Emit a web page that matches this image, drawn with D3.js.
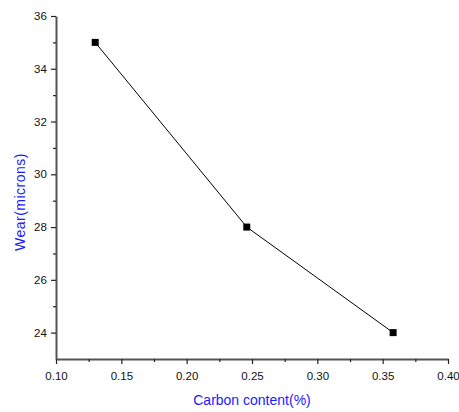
<!DOCTYPE html>
<html>
<head>
<meta charset="utf-8">
<script src="https://cdn.jsdelivr.net/npm/d3@7"></script>
<style>
  body { margin: 0; background: #fff; }
  svg { font-family: "Liberation Sans", Arial, sans-serif; }
</style>
</head>
<body>
<div id="chart"></div>
<script>
// Data
const carbon = [0.13, 0.246, 0.358];
const wear = [35, 28, 24];
const xTicks = [0.10, 0.15, 0.20, 0.25, 0.30, 0.35, 0.40];
const yTicks = [24, 26, 28, 30, 32, 34, 36];

const width = 459, height = 412;
const plot = { left: 56, right: 448, top: 16, bottom: 359 };

const svg = d3.select('#chart').append('svg')
    .attr('width', width)
    .attr('height', height);

const x = d3.scaleLinear().domain([0.10, 0.40]).range([plot.left, plot.right]);
const y = d3.scaleLinear().domain([23, 36]).range([plot.bottom, plot.top]);

const axisColor = '#555';

// minor ticks
const xMinor = d3.range(0.125, 0.40, 0.05);
const yMinor = d3.range(25, 36, 2);

const gx = svg.append('g')
    .attr('transform', `translate(0,${plot.bottom})`)
    .call(d3.axisBottom(x).tickValues(xTicks).tickFormat(d3.format('.2f')).tickSize(5).tickSizeOuter(0));
svg.append('g')
    .attr('transform', `translate(0,${plot.bottom})`)
    .call(d3.axisBottom(x).tickValues(xMinor).tickFormat('').tickSize(3).tickSizeOuter(0))
    .select('.domain').remove();

const gy = svg.append('g')
    .attr('transform', `translate(${plot.left},0)`)
    .call(d3.axisLeft(y).tickValues(yTicks).tickSize(5).tickSizeOuter(0));
svg.append('g')
    .attr('transform', `translate(${plot.left},0)`)
    .call(d3.axisLeft(y).tickValues(yMinor).tickFormat('').tickSize(3).tickSizeOuter(0))
    .select('.domain').remove();

svg.selectAll('.domain').attr('stroke', axisColor).attr('stroke-width', 2);
svg.selectAll('.tick line').attr('stroke', '#222').attr('stroke-width', 1.2);
svg.selectAll('.tick text').attr('fill', '#111').style('font-size', '11.5px');
gx.selectAll('.tick text').attr('dy', '1.1em');
gy.selectAll('.tick text').attr('dx', '-0.1em');

// line
const line = d3.line()
    .x((d, i) => x(carbon[i]))
    .y(d => y(d));

svg.append('path')
    .datum(wear)
    .attr('fill', 'none')
    .attr('stroke', '#000')
    .attr('stroke-width', 1)
    .attr('d', line);

// markers
svg.selectAll('.pt')
    .data(wear)
    .enter()
    .append('rect')
    .attr('class', 'pt')
    .attr('x', (d, i) => x(carbon[i]) - 3.5)
    .attr('y', d => y(d) - 3.5)
    .attr('width', 7)
    .attr('height', 7)
    .attr('fill', '#000');

// axis titles
svg.append('text')
    .attr('x', 252)
    .attr('y', 405)
    .attr('text-anchor', 'middle')
    .attr('fill', '#1a1aff')
    .style('font-size', '14px')
    .text('Carbon content(%)');

svg.append('text')
    .attr('transform', 'translate(25,202) rotate(-90)')
    .attr('text-anchor', 'middle')
    .attr('fill', '#1a1aff')
    .style('font-size', '14px')
    .style('letter-spacing', '0.5px')
    .text('Wear(microns)');
</script>
</body>
</html>
